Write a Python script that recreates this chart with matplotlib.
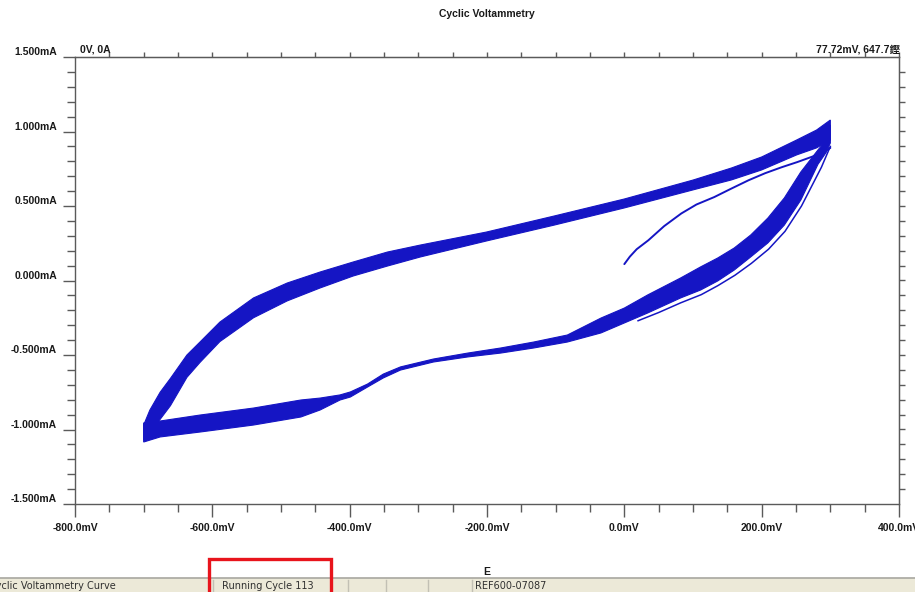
import matplotlib
matplotlib.use("Agg")
import matplotlib.pyplot as plt
from matplotlib.patches import Rectangle
from matplotlib.lines import Line2D
import numpy as np

# ---- data (potential in mV, current in mA) ----
# forward (anodic) sweep: outer and inner envelope of the overlaid cycles
E_fwd_top = [-700, -691, -676, -661, -637, -618, -589, -540, -491, -443, -395, -345, -297,
             -201, -102, 0, 100, 156, 200, 251, 280, 300]
I_fwd_top = [-0.97, -0.87, -0.75, -0.657, -0.50, -0.413, -0.279, -0.117, -0.017, 0.057, 0.124,
             0.191, 0.238, 0.325, 0.433, 0.547, 0.674, 0.755, 0.829, 0.943, 1.01, 1.077]
E_fwd_bot = [-700, -679, -661, -637, -618, -589, -540, -491, -443, -395, -345, -297,
             -201, -102, 0, 100, 156, 200, 251, 280, 300]
I_fwd_bot = [-1.07, -0.95, -0.84, -0.65, -0.55, -0.41, -0.25, -0.137, -0.05, 0.03, 0.097, 0.158,
             0.265, 0.372, 0.487, 0.608, 0.675, 0.742, 0.843, 0.89, 0.943]

# reverse (cathodic) sweep band
E_rev = [300, 294, 282, 257, 233, 209, 184, 160, 136, 111, 82, 34, 0, -34, -83, -132, -180,
         -228, -278, -326, -351, -374, -399, -414, -443, -471, -540, -618, -676, -700]
I_rev_top = [1.044, 0.943, 0.876, 0.728, 0.554, 0.419, 0.305, 0.218, 0.151, 0.091, 0.017, -0.097,
             -0.185, -0.252, -0.366, -0.413, -0.453, -0.487, -0.527, -0.58, -0.628, -0.695,
             -0.748, -0.768, -0.789, -0.802, -0.856, -0.903, -0.943, -0.956]
I_rev_bot = [0.923, 0.86, 0.78, 0.54, 0.372, 0.252, 0.158, 0.07, -0.003, -0.064, -0.117, -0.218,
             -0.285, -0.352, -0.413, -0.453, -0.487, -0.513, -0.547, -0.601, -0.654, -0.715,
             -0.782, -0.802, -0.869, -0.916, -0.97, -1.017, -1.05, -1.084]

# first cycle: initial sweep from open circuit, then its return branch
E_init = [0, 8, 18, 35, 58, 83, 105, 131, 155, 181, 205, 229, 252, 273, 290, 300]
I_init = [0.11, 0.16, 0.21, 0.27, 0.365, 0.45, 0.51, 0.56, 0.615, 0.673, 0.72, 0.76, 0.795,
          0.83, 0.86, 0.89]
E_first_rev = [300, 287, 258, 234, 210, 185, 161, 136, 112, 82, 50, 20]
I_first_rev = [0.90, 0.76, 0.50, 0.33, 0.21, 0.115, 0.035, -0.035, -0.095, -0.15, -0.215, -0.27]

x_ticks = [-800, -600, -400, -200, 0, 200, 400]
x_tick_labels = ["-800.0mV", "-600.0mV", "-400.0mV", "-200.0mV", "0.0mV", "200.0mV", "400.0mV"]
y_ticks = [-1.5, -1.0, -0.5, 0.0, 0.5, 1.0, 1.5]
y_tick_labels = ["-1.500mA", "-1.000mA", "-0.500mA", "0.000mA", "0.500mA", "1.000mA", "1.500mA"]

# ---- style ----
W, H = 915, 592
trace = "#1515c4"
axis_col = "#5a5a5a"
txt_col = "#1a1a1a"
lab_font = ["Liberation Sans Narrow", "Liberation Sans", "DejaVu Sans"]

fig = plt.figure(figsize=(W / 100, H / 100), dpi=100)
fig.patch.set_facecolor("white")

def fx(px):
    return px / W

def fy(py):
    return 1 - py / H

ax_l, ax_r, ax_t, ax_b = 75, 899, 57, 504
ax = fig.add_axes([fx(ax_l), fy(ax_b), (ax_r - ax_l) / W, (ax_b - ax_t) / H])
ax.set_xlim(-800, 400)
ax.set_ylim(-1.5, 1.5)

# bands of overlaid cycles (closed outlines)
fwd_x = list(E_fwd_top) + list(E_fwd_bot[::-1])
fwd_y = list(I_fwd_top) + list(I_fwd_bot[::-1])
ax.fill(fwd_x, fwd_y, facecolor=trace, edgecolor=trace, lw=0.8, zorder=3)
rev_x = list(E_rev) + list(E_rev[::-1])
rev_y = list(I_rev_top) + list(I_rev_bot[::-1])
ax.fill(rev_x, rev_y, facecolor=trace, edgecolor=trace, lw=0.8, zorder=3)
# first cycle traces
ax.plot(E_init, I_init, color=trace, lw=1.4, zorder=4, solid_capstyle="round")
ax.plot(E_first_rev, I_first_rev, color=trace, lw=1.1, zorder=4)

# spines & ticks
for s in ax.spines.values():
    s.set_color(axis_col)
    s.set_linewidth(1.0)

ax.set_xticks(x_ticks)
ax.set_xticklabels(x_tick_labels)
ax.set_xticks(np.arange(-800, 401, 50), minor=True)
ax.set_yticks(y_ticks)
ax.set_yticklabels(y_tick_labels)
ax.set_yticks(np.arange(-1.5, 1.501, 0.1), minor=True)

ax.tick_params(axis="both", which="major", direction="out", length=9, width=1.0,
               color=axis_col, labelsize=7.5, labelcolor=txt_col, pad=4)
ax.tick_params(axis="both", which="minor", direction="out", length=5.5, width=1.0,
               color=axis_col)
ax.tick_params(axis="x", which="major", pad=5)
for lab in ax.get_xticklabels() + ax.get_yticklabels():
    lab.set_family(lab_font)
    lab.set_fontweight("bold")
for lab in ax.get_yticklabels():
    lab.set_verticalalignment("bottom")

# short ticks on the top and right edges
top = ax.secondary_xaxis("top")
top.set_xticks(np.arange(-750, 401, 50))
top.set_xticklabels([])
top.tick_params(direction="out", length=3.5, width=1.0, color=axis_col)
top.spines["top"].set_color(axis_col)
right = ax.secondary_yaxis("right")
right.set_yticks(np.arange(-1.4, 1.401, 0.1))
right.set_yticklabels([])
right.tick_params(direction="out", length=4, width=1.0, color=axis_col)
right.spines["right"].set_color(axis_col)

# title and cursor readouts
fig.text(fx(487), fy(14), "Cyclic Voltammetry", ha="center", va="center",
         family=lab_font, fontweight="bold", fontsize=7.5, color=txt_col)
fig.text(fx(80), fy(55), "0V, 0A", ha="left", va="bottom",
         family=lab_font, fontweight="bold", fontsize=7.5, color=txt_col)
fig.text(fx(816), fy(55), "77.72mV, 647.7\u93d7", ha="left", va="bottom",
         family=lab_font + ["Noto Sans CJK SC"], fontweight="bold", fontsize=7.5, color=txt_col)
fig.text(fx(487), fy(572), "E", ha="center", va="center",
         family=lab_font, fontweight="bold", fontsize=7.5, color=txt_col)

# status bar
bar_top = 578
fig.patches.append(Rectangle((0, 0), 1, fy(bar_top), transform=fig.transFigure,
                             facecolor="#ece9d8", edgecolor="none", zorder=1))
fig.lines.append(Line2D([0, 1], [fy(bar_top), fy(bar_top)], transform=fig.transFigure,
                        color="#a8a7a0", lw=1.2, zorder=2))
for sx in [213, 348, 386, 428, 472]:
    fig.lines.append(Line2D([fx(sx), fx(sx)], [0, fy(bar_top + 2)], transform=fig.transFigure,
                            color="#c2c0b4", lw=1.0, zorder=2))
status_font = ["DejaVu Sans"]
fig.text(fx(-11), fy(586), "Cyclic Voltammetry Curve", ha="left", va="center",
         family=status_font, fontsize=7, color="#303030", zorder=3)
fig.text(fx(222), fy(586), "Running Cycle 113", ha="left", va="center",
         family=status_font, fontsize=7, color="#303030", zorder=3)
fig.text(fx(475), fy(586), "REF600-07087", ha="left", va="center",
         family=status_font, fontsize=7, color="#303030", zorder=3)

# highlight box round the cycle counter
fig.patches.append(Rectangle((fx(209), fy(600)), fx(331) - fx(209), fy(559) - fy(600),
                             transform=fig.transFigure, facecolor="none",
                             edgecolor="#e8141c", lw=2.4, zorder=4))

fig.savefig("out.png", dpi=100, facecolor="white")
